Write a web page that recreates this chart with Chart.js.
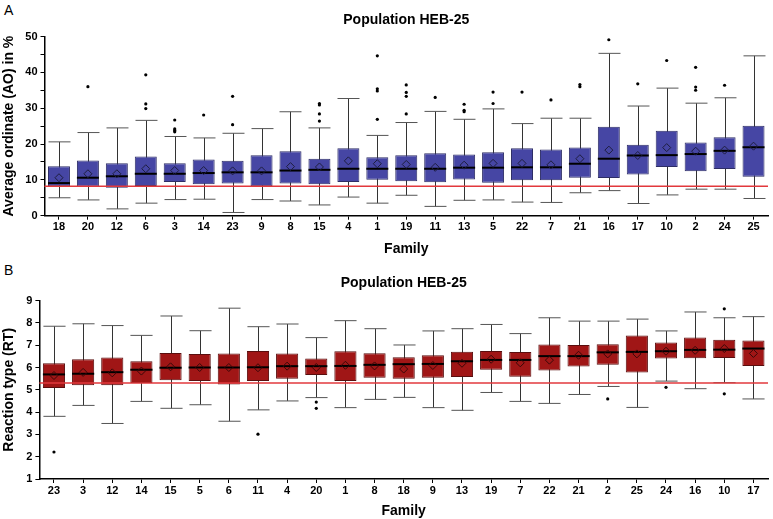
<!DOCTYPE html>
<html><head><meta charset="utf-8">
<script src="https://cdn.jsdelivr.net/npm/chart.js@4/dist/chart.umd.min.js"></script>
<style>
html,body{margin:0;padding:0;overflow:hidden;background:#fff;width:773px;height:519px;position:relative}
.lbl{position:absolute;font-family:"Liberation Sans",Arial,sans-serif;font-size:14px;line-height:14px;color:#000}
canvas{position:absolute;left:0}
</style></head><body>
<div class="lbl" style="left:4px;top:3px">A</div>
<div class="lbl" style="left:4px;top:263px">B</div>
<canvas id="cA" width="773" height="258" style="top:0"></canvas>
<canvas id="cB" width="773" height="261" style="top:260px"></canvas>
<script>
// ---------- Panel A: Average ordinate (AO) in % ----------
const famA = ['18','20','12','6','3','14','23','9','8','15','4','1','19','11','13','5','22','7','21','16','17','10','2','24','25'];
const minA = [5.0,4.4,1.9,3.5,4.5,4.6,0.9,4.5,4.1,3.0,5.2,3.5,5.7,2.6,4.3,4.4,3.8,3.7,6.4,7.0,3.4,5.8,7.4,7.4,4.8];
const q1A  = [8.2,8.1,7.8,8.3,9.4,8.8,9.0,8.2,9.0,8.8,9.4,10.0,9.6,9.3,10.1,9.2,9.9,9.9,10.6,10.5,11.5,13.6,12.4,13.0,10.9];
const medA = [9.1,10.6,11.0,11.7,11.7,11.9,12.1,12.1,12.6,12.8,13.1,13.1,13.1,13.1,13.4,13.4,13.5,13.5,14.5,15.9,16.8,16.9,17.2,18.1,19.1];
const q3A  = [13.8,15.4,14.6,16.5,14.6,15.7,15.3,16.9,18.0,15.9,18.8,16.3,16.9,17.4,17.1,17.7,18.8,18.5,19.0,24.8,19.8,23.7,20.4,21.9,25.1];
const maxA = [20.6,23.2,24.5,26.6,22.1,21.7,23.0,24.3,29.0,24.5,32.7,22.4,26.0,29.1,26.9,29.8,25.7,27.2,27.2,45.3,30.6,35.6,31.4,32.9,44.6];
const meanA = [10.6,11.7,11.7,13.1,12.6,12.6,12.5,12.5,13.7,13.6,15.3,14.5,14.3,13.5,14.1,14.6,14.6,14.2,15.9,18.3,16.8,19.0,18.0,18.3,19.4];
const outA = [[],[36.0],[],[39.3,31.2,29.9],[26.7,24.2,23.8,23.4],[28.1],[33.3,25.4],[],[],[31.3,30.9,28.4,26.4],[],[44.6,35.4,34.8,26.9],[36.5,34.4,33.3,28.4],[33.0],[31.1,29.4,29.0],[34.5,31.3],[34.5],[32.3],[36.6,36.0],[49.1],[36.8],[43.3],[41.4,35.9,35.0],[36.4],[]];
const refA = 8.2;
const yTicksA = [0,10,20,30,40,50];

// ---------- Panel B: Reaction type (RT) ----------
const famB = ['23','3','12','14','15','5','6','11','4','20','1','8','18','9','13','19','7','22','21','2','25','24','16','10','17'];
const minB = [3.81,4.30,3.49,4.48,4.17,4.33,3.59,4.10,4.50,4.65,4.20,4.57,4.66,4.20,4.08,4.88,4.48,4.39,4.79,5.15,4.21,5.39,5.05,5.32,4.59];
const q1B  = [5.08,5.20,5.20,5.30,5.43,5.40,5.24,5.40,5.49,5.66,5.40,5.54,5.49,5.54,5.57,5.90,5.58,5.87,6.04,6.12,5.78,6.40,6.42,6.43,6.07];
const medB = [5.69,5.72,5.79,5.90,5.99,6.00,6.00,6.01,6.06,6.06,6.07,6.12,6.15,6.16,6.28,6.34,6.34,6.51,6.51,6.68,6.70,6.73,6.79,6.80,6.85];
const q3B  = [6.19,6.37,6.45,6.28,6.65,6.61,6.63,6.74,6.63,6.40,6.73,6.64,6.46,6.55,6.71,6.74,6.70,7.03,7.01,7.04,7.43,7.12,7.34,7.24,7.21];
const maxB = [7.85,7.96,7.88,7.44,8.31,7.65,8.66,7.83,7.95,7.34,8.10,7.74,7.01,7.64,7.74,7.93,7.52,8.23,8.08,8.08,8.17,7.64,8.49,8.23,8.28];
const meanB = [5.64,5.78,5.76,5.84,6.03,6.00,6.00,5.99,6.06,6.00,6.10,6.07,5.93,6.09,6.19,6.37,6.21,6.33,6.55,6.61,6.61,6.73,6.77,6.85,6.63];
const outB = [[2.21],[],[],[],[],[],[],[3.01],[],[4.45,4.17],[],[],[],[],[],[],[],[],[],[4.59],[],[5.11],[],[8.63,4.82],[]];
const refB = 5.31;
const yTicksB = [1,2,3,4,5,6,7,8,9];

const FONT = '"Liberation Sans", Arial, sans-serif';

const boxDecor = {
  id: 'boxDecor',
  beforeDatasetsDraw(chart, args, o) {
    const ctx = chart.ctx, y = chart.scales.y, meta = chart.getDatasetMeta(0);
    ctx.save();
    ctx.lineWidth = 1;
    meta.data.forEach((bar, i) => {
      const x = Math.round(bar.x) + 0.5, w = bar.width;
      const yMin = y.getPixelForValue(o.min[i]), yMax = y.getPixelForValue(o.max[i]);
      ctx.strokeStyle = o.whisker;
      ctx.beginPath(); ctx.moveTo(x, yMin); ctx.lineTo(x, yMax); ctx.stroke();
      ctx.strokeStyle = o.cap;
      ctx.beginPath();
      ctx.moveTo(x - w / 2, yMin); ctx.lineTo(x + w / 2, yMin);
      ctx.moveTo(x - w / 2, yMax); ctx.lineTo(x + w / 2, yMax);
      ctx.stroke();
    });
    ctx.restore();
  },
  afterDatasetDraw(chart, args, o) {
    if (args.index !== 0) return;
    const ctx = chart.ctx, y = chart.scales.y, meta = chart.getDatasetMeta(0), ca = chart.chartArea;
    ctx.save();
    const ty = y.getPixelForValue(o.threshold);
    ctx.strokeStyle = o.lineColor; ctx.lineWidth = 1.5;
    ctx.beginPath(); ctx.moveTo(ca.left, ty); ctx.lineTo(ca.right, ty); ctx.stroke();
    ctx.strokeStyle = '#000'; ctx.lineWidth = 2;
    meta.data.forEach((bar, i) => {
      const ym = y.getPixelForValue(o.med[i]);
      ctx.beginPath(); ctx.moveTo(bar.x - bar.width / 2, ym); ctx.lineTo(bar.x + bar.width / 2, ym); ctx.stroke();
    });
    ctx.restore();
  }
};

function makePanel(id, labels, mins, q1s, meds, q3s, maxs, means, outs, ref, ticks, opt) {
  const outPts = [];
  outs.forEach((arr, i) => arr.forEach(v => outPts.push({x: labels[i], y: v})));
  return new Chart(document.getElementById(id), {
    type: 'bar',
    data: {
      labels: labels,
      datasets: [
        { type: 'bar', data: q1s.map((q, i) => [q, q3s[i]]), backgroundColor: opt.fill, borderColor: opt.border,
          borderWidth: 1, borderSkipped: false, barPercentage: 0.95, categoryPercentage: 0.8, order: 3 },
        { type: 'line', data: means, showLine: false, pointStyle: 'rectRot', pointRadius: 4, pointBorderWidth: 1,
          pointBorderColor: opt.meanColor, pointBackgroundColor: 'rgba(0,0,0,0)', order: 1 },
        { type: 'line', data: outPts, showLine: false, pointStyle: 'circle', pointRadius: 1.6, pointBorderWidth: 0,
          pointBackgroundColor: '#000', order: 1 }
      ]
    },
    options: {
      responsive: false, animation: false, devicePixelRatio: 1,
      layout: { padding: { left: 0, right: 3.5, top: 0, bottom: 0 } },
      plugins: {
        legend: { display: false }, tooltip: { enabled: false },
        title: { display: true, text: 'Population HEB-25', fullSize: false, color: '#000',
          font: { family: FONT, size: 14, weight: 'bold' }, padding: { top: opt.titleTop, bottom: opt.titleBottom } },
        boxDecor: { min: mins, max: maxs, med: meds, threshold: ref, whisker: '#333', cap: '#555', lineColor: '#e2383c' }
      },
      scales: {
        x: {
          type: 'category', offset: true,
          grid: { display: true, drawOnChartArea: false, offset: false, tickLength: 4, color: '#000', lineWidth: 1 },
          border: { display: true, color: '#000', width: 1.5 },
          ticks: { color: '#000', font: { family: FONT, size: 11, weight: 'bold' }, padding: 1, maxRotation: 0, autoSkip: false },
          title: { display: true, text: 'Family', color: '#000', font: { family: FONT, size: 14, weight: 'bold' },
            padding: { top: opt.xtTop, bottom: opt.xtBottom } }
        },
        y: {
          min: opt.min, max: opt.max,
          afterBuildTicks: s => { s.ticks = opt.tickVals.map(v => ({ value: v })); },
          afterFit: s => { s.width = opt.yWidth; },
          grid: { display: true, drawOnChartArea: false, tickLength: 4, color: '#000', lineWidth: 1 },
          border: { display: true, color: '#000', width: 1.5 },
          ticks: { color: '#000', font: { family: FONT, size: 11, weight: 'bold' }, padding: 3,
            callback: v => (ticks.indexOf(v) >= 0 ? String(v) : '') },
          title: { display: true, text: opt.yTitle, color: '#000', font: { family: FONT, size: 14, weight: 'bold' },
            padding: { top: 1, bottom: 2 } }
        }
      }
    },
    plugins: [boxDecor]
  });
}

makePanel('cA', famA, minA, q1A, medA, q3A, maxA, meanA, outA, refA, yTicksA, {
  fill: '#4646a4', border: '#2e2e66', meanColor: '#1e1e40', min: 0, max: 50,
  tickVals: [0,5,10,15,20,25,30,35,40,45,50], yWidth: 44.5, yTitle: 'Average ordinate (AO) in %',
  titleTop: 11.5, titleBottom: 8.2, xtTop: 6.3, xtBottom: 0
});
makePanel('cB', famB, minB, q1B, medB, q3B, maxB, meanB, outB, refB, yTicksB, {
  fill: '#a01616', border: '#5a0e0e', meanColor: '#3a0808', min: 1, max: 9,
  tickVals: [1,2,3,4,5,6,7,8,9], yWidth: 39.4, yTitle: 'Reaction type (RT)',
  titleTop: 15.1, titleBottom: 8.7, xtTop: 4.4, xtBottom: 1.6
});
</script>
</body></html>
